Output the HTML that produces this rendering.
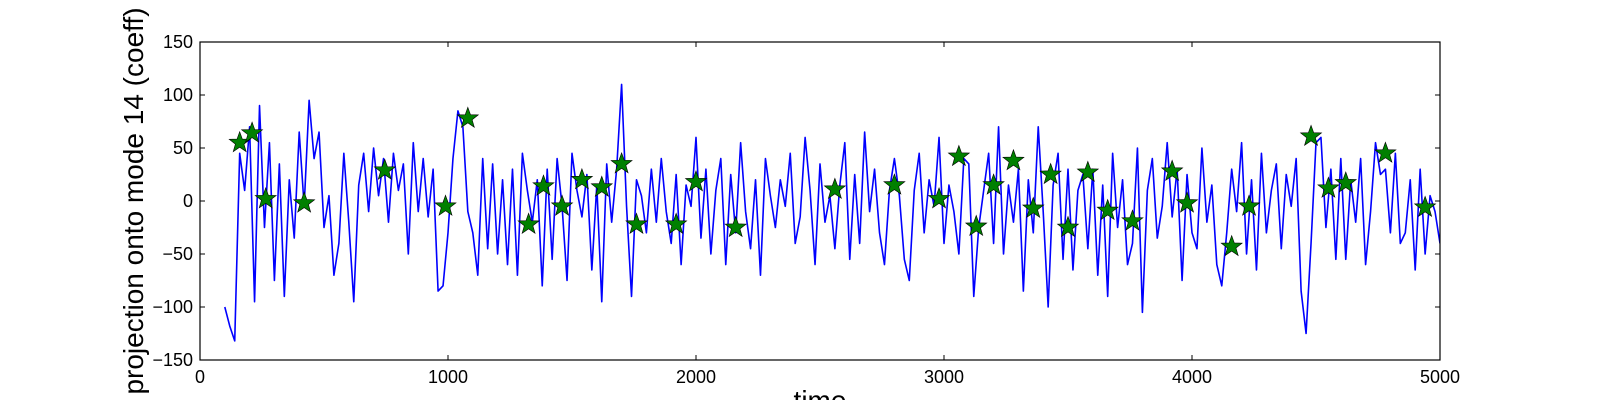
<!DOCTYPE html>
<html><head><meta charset="utf-8"><style>
html,body{margin:0;padding:0;background:#fff;}
svg{display:block;font-family:"Liberation Sans","DejaVu Sans",sans-serif;}
</style></head><body>
<svg id="chart" width="1600" height="400" viewBox="0 0 1600 400" xmlns="http://www.w3.org/2000/svg">
<rect width="1600" height="400" fill="#fff"/>
<g id="plot"></g>
<g id="axes"></g>
</svg>
<script>
const tStart = 100;
const tStep = 20;
const seriesValues = [
-100,-118,-132,45,10,70,-95,90,-25,55,-75,35,-90,20,-35,65,-5,95,40,65,-25,5,-70,-40,45,
-20,-95,15,45,-10,50,5,40,-20,45,10,35,-50,55,-10,40,-15,30,-85,-80,-30,40,85,70,-10,
-30,-70,40,-45,35,-50,20,-60,30,-70,45,10,-20,20,-80,30,-55,40,-5,-75,45,10,-15,25,-65,
15,-95,35,-20,30,110,-5,-90,20,5,-30,30,-20,40,-10,-40,25,-60,15,-5,60,-35,30,-50,10,
40,-60,25,-30,55,-10,-45,20,-70,40,5,-25,20,-5,45,-40,-15,60,10,-60,35,-20,5,-45,15,
55,-55,25,-40,65,-10,30,-30,-60,10,40,5,-55,-75,10,45,-30,20,-5,60,-40,15,-10,-50,40,
35,-90,-25,10,45,-40,70,-50,15,-20,30,-85,20,-30,70,-10,-100,15,45,-55,30,-65,10,25,-45,
30,-70,15,-90,45,-25,20,-60,-40,50,-105,10,40,-35,-5,55,-15,30,-75,25,-30,-45,50,-20,15,
-60,-80,-30,30,-10,55,-50,20,-65,45,-30,10,35,-45,25,-5,40,-85,-125,-40,55,60,-25,30,-55,
40,-55,20,-20,40,-60,-10,55,25,30,-30,45,-40,-30,20,-65,30,-50,5,-10,-40
];
const starTimes = [160,210,265,420,745,990,1080,1325,1385,1460,1540,1620,1700,1760,1920,2000,2160,2560,2800,2980,3060,3130,3200,3280,3360,3430,3500,3580,3660,3760,3920,3980,4160,4230,4480,4550,4620,4780,4940];
const starValues = [55,64,2,-2,29,-5,78,-22,14,-5,20,13,35,-22,-22,18,-25,11,15,2,42,-24,15,38,-7,25,-25,27,-9,-19,28,-2,-43,-5,61,12,17,45,-6];
const xTicks = [0,1000,2000,3000,4000,5000];
const yTicks = [-150,-100,-50,0,50,100,150];

const L=200,R=1440,T=42,B=360;
const xMin=0,xMax=5000,yMin=-150,yMax=150;
const sx=v=>L+(v-xMin)/(xMax-xMin)*(R-L);
const sy=v=>B-(v-yMin)/(yMax-yMin)*(B-T);
const NS="http://www.w3.org/2000/svg";
const plot=document.getElementById('plot');
const axes=document.getElementById('axes');
function mk(tag,attrs,parent){const e=document.createElementNS(NS,tag);for(const k in attrs)e.setAttribute(k,attrs[k]);parent.appendChild(e);return e;}

const clip=mk('clipPath',{id:'clipArea'},plot);
mk('rect',{x:L,y:T,width:R-L,height:B-T},clip);

let d='';
seriesValues.forEach((v,i)=>{const t=tStart+i*tStep;d+=(i?'L':'M')+sx(t).toFixed(2)+','+sy(v).toFixed(2);});
const line=mk('path',{d:d,fill:'none',stroke:'#0000ff','stroke-width':1.6,'stroke-linejoin':'round','clip-path':'url(#clipArea)'},plot);



function starPath(cx,cy,ro,ri){let p='';for(let k=0;k<10;k++){const r=k%2?ri:ro;const a=-Math.PI/2+k*Math.PI/5;p+=(k?'L':'M')+(cx+r*Math.cos(a)).toFixed(2)+','+(cy+r*Math.sin(a)).toFixed(2);}return p+'Z';}
starTimes.forEach((t,i)=>{
  const s=mk('path',{d:starPath(sx(t),sy(starValues[i]),11,4.5),fill:'#008000',stroke:'#000','stroke-width':0.6},plot);
  
  
});

const frame=mk('rect',{x:L,y:T,width:R-L,height:B-T,fill:'none',stroke:'#000','stroke-width':1.2},axes);



xTicks.forEach(v=>{
  const x=sx(v);
  mk('line',{x1:x,y1:B,x2:x,y2:B-5,stroke:'#000','stroke-width':1},axes);
  mk('line',{x1:x,y1:T,x2:x,y2:T+5,stroke:'#000','stroke-width':1},axes);
  const tx=mk('text',{x:x,y:B+23,'text-anchor':'middle','font-size':18,fill:'#000'},axes);
  tx.textContent=v;
  
  
});
yTicks.forEach(v=>{
  const y=sy(v);
  mk('line',{x1:L,y1:y,x2:L+5,y2:y,stroke:'#000','stroke-width':1},axes);
  mk('line',{x1:R,y1:y,x2:R-5,y2:y,stroke:'#000','stroke-width':1},axes);
  const ty=mk('text',{x:L-7,y:y+6,'text-anchor':'end','font-size':18,fill:'#000'},axes);
  ty.textContent=(v<0?'\u2212'+Math.abs(v):v);
  
  
});
const xl=mk('text',{x:(L+R)/2,y:410,'text-anchor':'middle','font-size':28,fill:'#000'},axes);
xl.textContent='time';


const yl=mk('text',{x:0,y:0,'text-anchor':'middle','font-size':28,fill:'#000',transform:'translate(143,'+((T+B)/2)+') rotate(-90)'},axes);
yl.textContent='projection onto mode 14 (coeff)';


</script>
</body></html>
